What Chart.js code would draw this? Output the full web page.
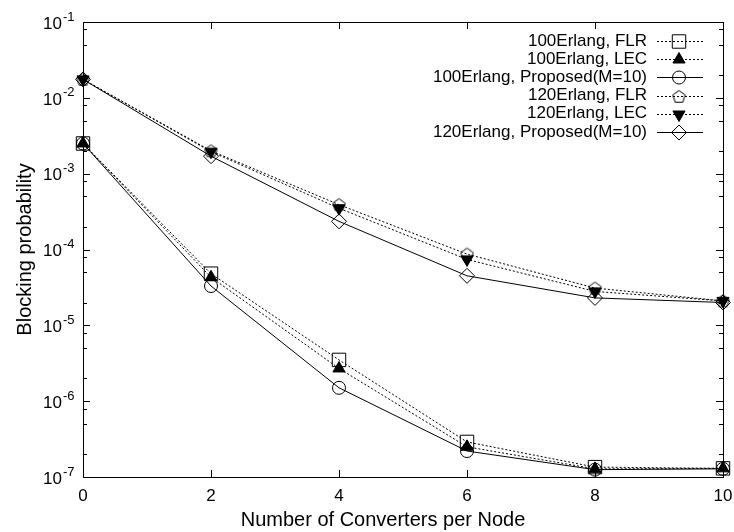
<!DOCTYPE html>
<html>
<head>
<meta charset="utf-8">
<script src="https://cdn.jsdelivr.net/npm/chart.js@4/dist/chart.umd.min.js"></script>
<style>
  body { margin: 0; background: #fff; }
  #wrap { width: 734px; height: 532px; }
</style>
</head>
<body>
<div id="wrap"><canvas id="myChart" width="734" height="532"></canvas></div>
<script>
const FONT = '"Liberation Sans", Arial, Helvetica, sans-serif';

// converters per node
const converters = [0, 2, 4, 6, 8, 10];

// blocking probability
const flr100  = [2.5e-3, 4.8e-5, 3.5e-6, 2.9e-7, 1.35e-7, 1.3e-7];
const lec100  = [2.5e-3, 4.3e-5, 2.7e-6, 2.5e-7, 1.28e-7, 1.3e-7];
const prop100 = [2.5e-3, 3.3e-5, 1.5e-6, 2.2e-7, 1.25e-7, 1.28e-7];
const flr120  = [1.75e-2, 2.0e-3, 3.9e-4, 8.7e-5, 3.1e-5, 2.1e-5];
const lec120  = [1.75e-2, 1.95e-3, 3.5e-4, 7.4e-5, 2.8e-5, 2.1e-5];
const prop120 = [1.75e-2, 1.7e-3, 2.35e-4, 4.5e-5, 2.3e-5, 2.0e-5];

const seriesNames = [
  "100Erlang, FLR",
  "100Erlang, LEC",
  "100Erlang, Proposed(M=10)",
  "120Erlang, FLR",
  "120Erlang, LEC",
  "120Erlang, Proposed(M=10)"
];

const xTicks = [0, 2, 4, 6, 8, 10];
const yExponents = [-7, -6, -5, -4, -3, -2, -1];
const minorSteps = [2, 5, 8];

// open pentagon marker (no built-in one)
function makePentagon(size) {
  const c = document.createElement("canvas");
  c.width = size; c.height = size;
  const g = c.getContext("2d");
  const r = size / 2 - 1;
  g.strokeStyle = "#000";
  g.lineWidth = 1;
  g.beginPath();
  for (let i = 0; i < 5; i++) {
    const a = -Math.PI / 2 + i * 2 * Math.PI / 5;
    const px = size / 2 + r * Math.cos(a);
    const py = size / 2 + 0.5 + r * Math.sin(a);
    if (i === 0) g.moveTo(px, py); else g.lineTo(px, py);
  }
  g.closePath();
  g.stroke();
  return c;
}
const pentagon = makePentagon(15);

function pts(values) {
  return values.map((v, i) => ({ x: converters[i], y: v }));
}

function series(label, values, style) {
  return Object.assign({
    label: label,
    data: pts(values),
    borderColor: "#000",
    borderWidth: 1,
    pointBorderColor: "#000",
    pointBorderWidth: 1,
    pointBackgroundColor: "rgba(0,0,0,0)",
    pointHoverRadius: 0,
    tension: 0,
    fill: false,
    clip: false
  }, style);
}

const dotted = [2, 2];

const datasets = [
  series(seriesNames[0], flr100, { borderDash: dotted, pointStyle: "rect", pointRadius: 9.5 }),
  series(seriesNames[1], lec100, { borderDash: dotted, pointStyle: "triangle", pointRadius: 7, pointBackgroundColor: "#000" }),
  series(seriesNames[2], prop100, { pointStyle: "circle", pointRadius: 6.5 }),
  series(seriesNames[3], flr120, { borderDash: dotted, pointStyle: pentagon, pointRadius: 7 }),
  series(seriesNames[4], lec120, { borderDash: dotted, pointStyle: "triangle", pointRotation: 180, pointRadius: 7, pointBackgroundColor: "#000" }),
  series(seriesNames[5], prop120, { pointStyle: "rectRot", pointRadius: 7.5 })
];

// frame, inward ticks, y labels, axis titles, legend
const gnuplotLook = {
  id: "gnuplotLook",
  beforeDatasetsDraw(chart) {
    const { ctx, chartArea: a, scales } = chart;
    const x = scales.x, y = scales.y;
    ctx.save();
    ctx.strokeStyle = "#000";
    ctx.lineWidth = 1;
    ctx.setLineDash([]);
    ctx.strokeRect(a.left + 0.5, a.top + 0.5, a.right - a.left, a.bottom - a.top);

    ctx.beginPath();
    xTicks.forEach(v => {
      const px = Math.round(x.getPixelForValue(v)) + 0.5;
      ctx.moveTo(px, a.bottom); ctx.lineTo(px, a.bottom - 7);
      ctx.moveTo(px, a.top); ctx.lineTo(px, a.top + 7);
    });
    yExponents.forEach(e => {
      const py = Math.round(y.getPixelForValue(Math.pow(10, e))) + 0.5;
      ctx.moveTo(a.left, py); ctx.lineTo(a.left + 7, py);
      ctx.moveTo(a.right, py); ctx.lineTo(a.right - 7, py);
      if (e < -1) {
        minorSteps.forEach(m => {
          const pm = Math.round(y.getPixelForValue(m * Math.pow(10, e))) + 0.5;
          ctx.moveTo(a.left, pm); ctx.lineTo(a.left + 4, pm);
          ctx.moveTo(a.right, pm); ctx.lineTo(a.right - 4, pm);
        });
      }
    });
    ctx.stroke();

    // y tick labels 10^n
    ctx.fillStyle = "#000";
    ctx.textBaseline = "middle";
    yExponents.forEach(e => {
      const py = y.getPixelForValue(Math.pow(10, e));
      ctx.font = "17px " + FONT;
      ctx.textAlign = "right";
      ctx.fillText("10", 62, py + 2);
      ctx.font = "13px " + FONT;
      ctx.textAlign = "left";
      ctx.fillText(String(e), 63, py - 5);
    });

    // axis titles
    ctx.font = "20px " + FONT;
    ctx.textAlign = "center";
    ctx.fillText("Number of Converters per Node", 383, 520);
    ctx.save();
    ctx.translate(25, (a.top + a.bottom) / 2);
    ctx.rotate(-Math.PI / 2);
    ctx.fillText("Blocking probability", 0, 0);
    ctx.restore();
    ctx.restore();
  },
  afterDatasetsDraw(chart) {
    const { ctx } = chart;
    ctx.save();
    chart.data.datasets.forEach((ds, i) => {
      const rowY = 41 + i * 18.2;
      ctx.fillStyle = "#000";
      ctx.font = "17px " + FONT;
      ctx.textAlign = "right";
      ctx.textBaseline = "middle";
      ctx.fillText(ds.label, 647, rowY);

      ctx.strokeStyle = "#000";
      ctx.lineWidth = 1;
      ctx.setLineDash(ds.borderDash || []);
      ctx.beginPath();
      ctx.moveTo(657, Math.round(rowY) + 0.5);
      ctx.lineTo(703, Math.round(rowY) + 0.5);
      ctx.stroke();
      ctx.setLineDash([]);

      ctx.fillStyle = ds.pointBackgroundColor;
      Chart.helpers.drawPoint(ctx, {
        pointStyle: ds.pointStyle,
        rotation: ds.pointRotation || 0,
        radius: ds.pointRadius,
        borderWidth: 1
      }, 679, Math.round(rowY) + 0.5);
    });
    ctx.restore();
  }
};

new Chart(document.getElementById("myChart"), {
  type: "line",
  data: { datasets: datasets },
  options: {
    responsive: false,
    animation: false,
    layout: { padding: { top: 22, right: 11, left: 0, bottom: 0 } },
    plugins: {
      legend: { display: false },
      tooltip: { enabled: false }
    },
    scales: {
      x: {
        type: "linear",
        min: 0,
        max: 10,
        grid: { display: false },
        border: { display: false },
        afterFit: (s) => { s.height = 55; s.paddingLeft = 0; s.paddingRight = 0; },
        afterBuildTicks: (s) => { s.ticks = xTicks.map(v => ({ value: v })); },
        ticks: {
          color: "#000",
          padding: 1,
          font: { family: FONT, size: 17 }
        }
      },
      y: {
        type: "logarithmic",
        min: 1e-7,
        max: 1e-1,
        grid: { display: false },
        border: { display: false },
        ticks: { display: false },
        afterFit: (s) => { s.width = 83; s.paddingTop = 0; s.paddingBottom = 0; }
      }
    }
  },
  plugins: [gnuplotLook]
});
</script>
</body>
</html>
